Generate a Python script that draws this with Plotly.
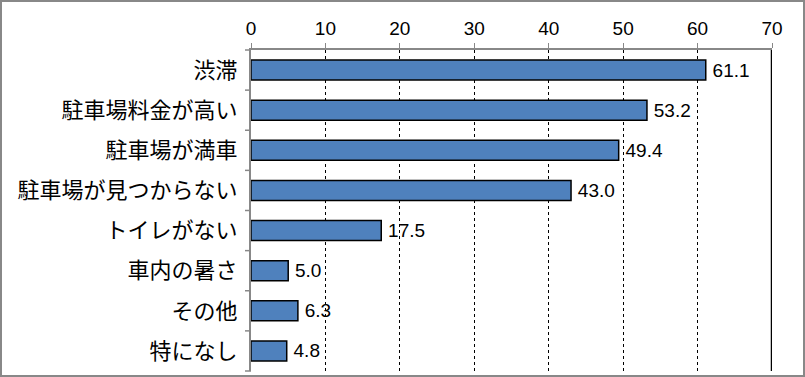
import plotly.graph_objects as go

categories = ["渋滞", "駐車場料金が高い", "駐車場が満車", "駐車場が見つからない",
              "トイレがない", "車内の暑さ", "その他", "特になし"]
values = [61.1, 53.2, 49.4, 43.0, 17.5, 5.0, 6.3, 4.8]
tick_vals = [0, 10, 20, 30, 40, 50, 60, 70]
X_MAX = 70

W, H = 805, 377
ML, MR, MT, MB = 251, 33, 50, 6

fig = go.Figure(go.Bar(
    y=categories, x=values, orientation="h",
    marker=dict(color="#4F81BD", line=dict(color="black", width=1.5)),
    text=[f"{v:.1f}" for v in values], texttemplate="\u2009%{text}",
    textposition="outside", constraintext="none",
    textfont=dict(size=19, color="black", family="Liberation Sans, Arial"),
    cliponaxis=False, width=0.5,
))

fig.update_layout(
    width=W, height=H, margin=dict(l=ML, r=MR, t=MT, b=MB),
    paper_bgcolor="white", plot_bgcolor="white", showlegend=False,
    font=dict(family="Noto Sans CJK JP", color="black"),
)
fig.update_xaxes(
    side="top", range=[0, X_MAX], tickvals=tick_vals,
    tickfont=dict(size=19, family="Liberation Sans, Arial"),
    showgrid=True, gridcolor="black", griddash="dot", gridwidth=1,
    showline=True, linecolor="#888888", linewidth=2,
    ticks="outside", ticklen=5, tickcolor="#888888", zeroline=False,
)
fig.update_yaxes(
    categoryorder="array", categoryarray=categories, autorange="reversed",
    tickfont=dict(size=22, family="Noto Sans CJK JP"),
    showline=True, linecolor="#888888", linewidth=2,
    ticks="", showgrid=False, ticklabelstandoff=7,
)
# solid line at right edge of the value axis
fig.add_vline(x=X_MAX, line=dict(color="black", width=2.5))
# category boundary ticks on left axis
pw, ph = W - ML - MR, H - MT - MB
for i in range(len(categories) + 1):
    fig.add_shape(type="line", xref="paper", yref="paper",
                  x0=-6 / pw, x1=0,
                  y0=1 - i / len(categories), y1=1 - i / len(categories),
                  line=dict(color="#888888", width=1.5))
# outer border
fig.add_shape(type="rect", xref="paper", yref="paper",
              x0=-(ML - 1) / pw, x1=1 + (MR - 1) / pw,
              y0=-(MB - 1) / ph, y1=1 + (MT - 1) / ph,
              line=dict(color="#888888", width=2))

fig.write_html("out.html", config={"displayModeBar": False},
               post_script="document.body.style.margin='0';")
